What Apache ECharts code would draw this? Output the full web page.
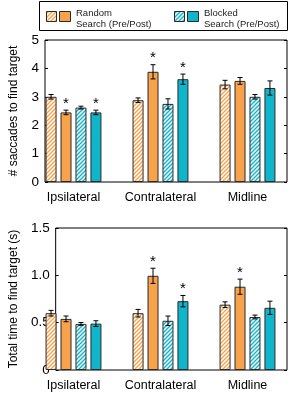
<!DOCTYPE html>
<html>
<head>
<meta charset="utf-8">
<script src="https://cdn.jsdelivr.net/npm/echarts@6/dist/echarts.min.js"></script>
<style>
  html, body { margin: 0; padding: 0; background: #fff; }
  #chart { width: 291px; height: 396px; }
</style>
</head>
<body>
<div id="chart"></div>
<script>
const categories = ["Ipsilateral", "Contralateral", "Midline"];

// # saccades to find target
const saccRandomPre = [3.0, 2.88, 3.43];
const saccRandomPost = [2.45, 3.88, 3.56];
const saccBlockedPre = [2.62, 2.75, 3.0];
const saccBlockedPost = [2.45, 3.62, 3.31];
const saccRandomPreErr = [0.08, 0.08, 0.15];
const saccRandomPostErr = [0.08, 0.25, 0.12];
const saccBlockedPreErr = [0.05, 0.18, 0.08];
const saccBlockedPostErr = [0.08, 0.18, 0.25];
const saccSig = [[0, 0, 0], [1, 1, 0], [0, 0, 0], [1, 1, 0]];

// total time to find target (s)
const timeRandomPre = [0.6, 0.6, 0.69];
const timeRandomPost = [0.54, 0.995, 0.88];
const timeBlockedPre = [0.487, 0.52, 0.56];
const timeBlockedPost = [0.49, 0.727, 0.657];
const timeRandomPreErr = [0.03, 0.04, 0.03];
const timeRandomPostErr = [0.03, 0.08, 0.08];
const timeBlockedPreErr = [0.015, 0.05, 0.02];
const timeBlockedPostErr = [0.03, 0.06, 0.07];
const timeSig = [[0, 0, 0], [0, 1, 1], [0, 0, 0], [0, 1, 0]];

const saccTicks = [0, 1, 2, 3, 4, 5];
const timeTicks = [0, 0.5, 1.0, 1.5];

const ORANGE = "#f9a24c";
const CYAN = "#0fb5cb";
const EDGE = "#2a2a2a";
const FONT = "Liberation Sans";
const BAR_W = 11;
const BAR_GAP = 0.36;

function hatch(color) {
  const c = document.createElement("canvas");
  c.width = 4;
  c.height = 4;
  const ctx = c.getContext("2d");
  ctx.fillStyle = "#ffffff";
  ctx.fillRect(0, 0, 4, 4);
  ctx.strokeStyle = color;
  ctx.lineWidth = 1.4;
  ctx.beginPath();
  ctx.moveTo(-1, 5); ctx.lineTo(5, -1);
  ctx.moveTo(-1, 1); ctx.lineTo(1, -1);
  ctx.moveTo(3, 5); ctx.lineTo(5, 3);
  ctx.stroke();
  return { image: c, repeat: "repeat" };
}

const fills = [hatch(ORANGE), ORANGE, hatch(CYAN), CYAN];

// bar centre offsets inside a category, same maths as the bar layout
const step = BAR_W * (1 + BAR_GAP);
const offsets = [0, 1, 2, 3].map((i) => (i - 1.5) * step);

function barSeries(values, i, xAxisIndex, yAxisIndex) {
  return {
    type: "bar",
    xAxisIndex,
    yAxisIndex,
    data: values,
    barWidth: BAR_W,
    barGap: BAR_GAP * 100 + "%",
    itemStyle: { color: fills[i], borderColor: EDGE, borderWidth: 1 },
    emphasis: { disabled: true },
    z: 2,
  };
}

function errorSeries(groups, errs, sig, xAxisIndex, yAxisIndex) {
  const data = [];
  groups.forEach((values, s) => {
    values.forEach((v, c) => data.push([c, v, errs[s][c], sig[s][c], s]));
  });
  return {
    type: "custom",
    xAxisIndex,
    yAxisIndex,
    z: 5,
    silent: true,
    data,
    renderItem: (params, api) => {
      const c = api.value(0);
      const v = api.value(1);
      const e = api.value(2);
      const s = api.value(4);
      const hi = api.coord([c, v + e]);
      const lo = api.coord([c, v - e]);
      const x = hi[0] + offsets[s];
      const cap = 2.5;
      const style = { stroke: "#000", lineWidth: 1 };
      const children = [
        { type: "line", shape: { x1: x, y1: hi[1], x2: x, y2: lo[1] }, style },
        { type: "line", shape: { x1: x - cap, y1: hi[1], x2: x + cap, y2: hi[1] }, style },
        { type: "line", shape: { x1: x - cap, y1: lo[1], x2: x + cap, y2: lo[1] }, style },
      ];
      if (api.value(3)) {
        children.push({
          type: "text",
          style: {
            text: "*",
            x: x,
            y: hi[1] + 1,
            align: "center",
            verticalAlign: "bottom",
            font: "15px " + FONT,
            fill: "#000",
          },
        });
      }
      return { type: "group", children };
    },
  };
}

const frameLeft = 39;
const frameWidth = 248;
const dataLeft = 30;
const dataWidth = 265;
const plotH = 142;
const topY = 40;
const botY = 228;

const labelStyle = { color: "#000", fontFamily: FONT, fontSize: 13.5 };

function frameGrid(top) {
  return { left: frameLeft, top, width: frameWidth, height: plotH, show: true, borderColor: "#000", borderWidth: 1, backgroundColor: "transparent" };
}
function dataGrid(top) {
  return { left: dataLeft, top, width: dataWidth, height: plotH };
}

function leftAxis(gridIndex, ticks, name, nameGap, fmt) {
  return {
    type: "value",
    gridIndex,
    min: ticks[0],
    max: ticks[ticks.length - 1],
    interval: ticks[1] - ticks[0],
    name,
    nameLocation: "middle",
    nameGap,
    nameTextStyle: { color: "#000", fontFamily: FONT, fontSize: 12 },
    axisLine: { show: false },
    axisTick: { show: true, inside: true, length: 3, lineStyle: { color: "#000" } },
    axisLabel: { ...labelStyle, margin: 6, formatter: fmt },
    splitLine: { show: false },
  };
}
function rightAxis(gridIndex, ticks) {
  return {
    type: "value",
    gridIndex,
    position: "right",
    min: ticks[0],
    max: ticks[ticks.length - 1],
    interval: ticks[1] - ticks[0],
    axisLine: { show: false },
    axisTick: { show: true, inside: true, length: 3, lineStyle: { color: "#000" } },
    axisLabel: { show: false },
    splitLine: { show: false },
  };
}
function hiddenAxis(gridIndex, ticks) {
  return { type: "value", gridIndex, show: false, min: ticks[0], max: ticks[ticks.length - 1] };
}
function categoryAxis(gridIndex) {
  return {
    type: "category", gridIndex, data: categories,
    axisLine: { show: false }, axisTick: { show: false },
    axisLabel: { ...labelStyle, fontSize: 12.5, margin: 9, interval: 0, hideOverlap: false },
  };
}

const option = {
  backgroundColor: "#fff",
  animation: false,
  grid: [frameGrid(topY), dataGrid(topY), frameGrid(botY), dataGrid(botY)],
  xAxis: [
    { type: "category", gridIndex: 0, show: false, data: categories },
    categoryAxis(1),
    { type: "category", gridIndex: 2, show: false, data: categories },
    categoryAxis(3),
  ],
  yAxis: [
    leftAxis(0, saccTicks, "# saccades to find target", 25, (v) => String(v)),
    rightAxis(0, saccTicks),
    hiddenAxis(1, saccTicks),
    leftAxis(2, timeTicks, "Total time to find target (s)", 27, (v) => (v === 0 ? "0" : v.toFixed(1))),
    rightAxis(2, timeTicks),
    hiddenAxis(3, timeTicks),
  ],
  series: [
    barSeries(saccRandomPre, 0, 1, 2),
    barSeries(saccRandomPost, 1, 1, 2),
    barSeries(saccBlockedPre, 2, 1, 2),
    barSeries(saccBlockedPost, 3, 1, 2),
    errorSeries(
      [saccRandomPre, saccRandomPost, saccBlockedPre, saccBlockedPost],
      [saccRandomPreErr, saccRandomPostErr, saccBlockedPreErr, saccBlockedPostErr],
      saccSig, 1, 2
    ),
    barSeries(timeRandomPre, 0, 3, 5),
    barSeries(timeRandomPost, 1, 3, 5),
    barSeries(timeBlockedPre, 2, 3, 5),
    barSeries(timeBlockedPost, 3, 3, 5),
    errorSeries(
      [timeRandomPre, timeRandomPost, timeBlockedPre, timeBlockedPost],
      [timeRandomPreErr, timeRandomPostErr, timeBlockedPreErr, timeBlockedPostErr],
      timeSig, 3, 5
    ),
  ],
  graphic: [
    { type: "rect", shape: { x: 39.5, y: 1.5, width: 248, height: 29 }, style: { fill: "#fff", stroke: "#000", lineWidth: 1 } },
    { type: "rect", shape: { x: 46.5, y: 11.5, width: 10, height: 10 }, style: { fill: fills[0], stroke: EDGE, lineWidth: 1 } },
    { type: "rect", shape: { x: 59.5, y: 11.5, width: 11, height: 10 }, style: { fill: fills[1], stroke: EDGE, lineWidth: 1 } },
    { type: "text", style: { x: 76, y: 7.5, text: "Random\nSearch (Pre/Post)", font: "9.5px " + FONT, lineHeight: 11, fill: "#222" } },
    { type: "rect", shape: { x: 174.5, y: 11.5, width: 10, height: 10 }, style: { fill: fills[2], stroke: EDGE, lineWidth: 1 } },
    { type: "rect", shape: { x: 187.5, y: 11.5, width: 11, height: 10 }, style: { fill: fills[3], stroke: EDGE, lineWidth: 1 } },
    { type: "text", style: { x: 204, y: 7.5, text: "Blocked\nSearch (Pre/Post)", font: "9.5px " + FONT, lineHeight: 11, fill: "#222" } },
  ],
};

const chart = echarts.init(document.getElementById("chart"), null, { renderer: "canvas" });
chart.setOption(option);
</script>
</body>
</html>
